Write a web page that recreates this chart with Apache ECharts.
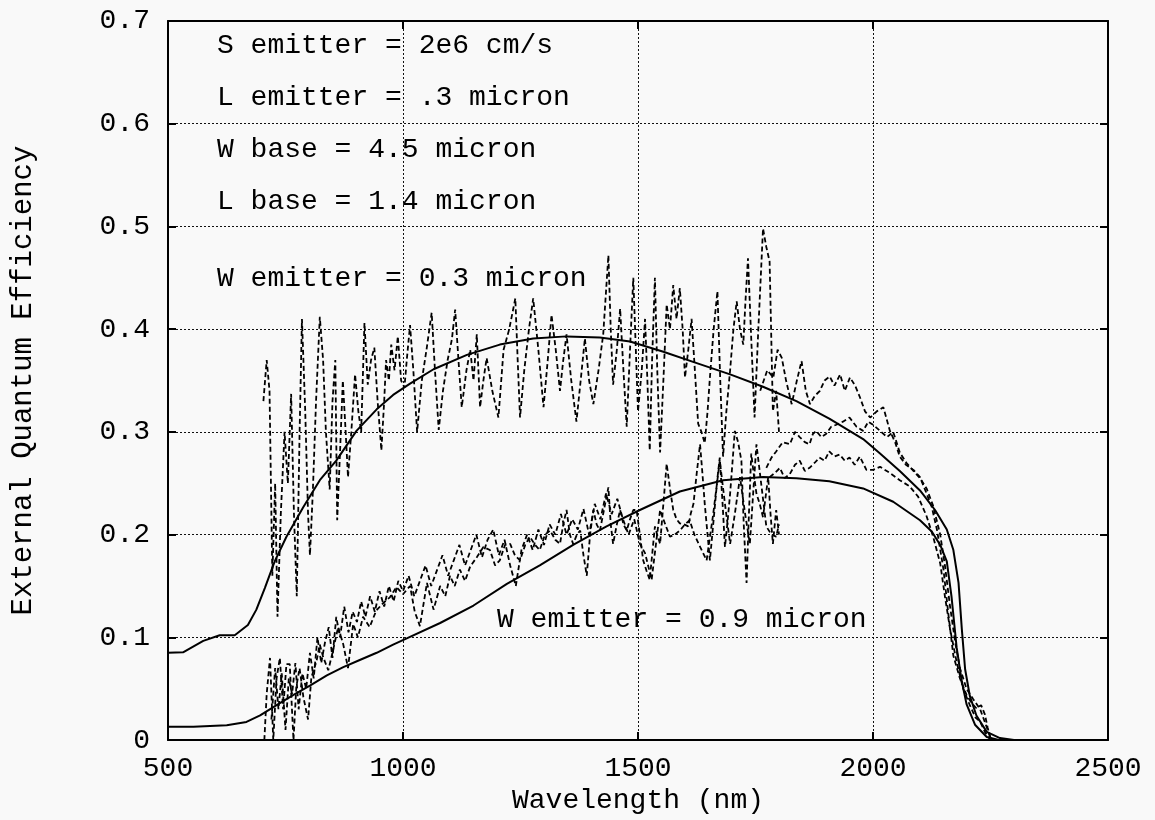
<!DOCTYPE html>
<html>
<head>
<meta charset="utf-8">
<script src="https://cdn.jsdelivr.net/npm/echarts@6/dist/echarts.min.js"></script>
<style>
  html, body { margin: 0; padding: 0; background: #f9f9f9; }
  #chart { width: 1155px; height: 820px; }
</style>
</head>
<body>
<div id="chart"></div>
<script>
// model curves (solid)
var modelHiX = [500, 532, 575, 610, 642, 670, 688, 706, 727, 752, 788, 823, 858, 901, 944, 979, 1015, 1065, 1136, 1206, 1277, 1348, 1419, 1483, 1554, 1625, 1696, 1766, 1837, 1907, 1979, 2015, 2057, 2100, 2132, 2157, 2171, 2182, 2189, 2196, 2206, 2220, 2242, 2270, 2300, 2500];
var modelHiY = [0.085, 0.0854, 0.0966, 0.102, 0.102, 0.112, 0.127, 0.148, 0.174, 0.198, 0.227, 0.253, 0.272, 0.301, 0.322, 0.336, 0.347, 0.361, 0.375, 0.385, 0.391, 0.393, 0.392, 0.388, 0.378, 0.367, 0.356, 0.344, 0.33, 0.313, 0.293, 0.279, 0.262, 0.243, 0.224, 0.205, 0.185, 0.153, 0.108, 0.069, 0.043, 0.024, 0.008, 0.002, 0, 0];

var modelLoX = [500, 554, 625, 667, 696, 731, 767, 802, 838, 873, 908, 944, 979, 1008, 1079, 1150, 1221, 1291, 1362, 1433, 1504, 1589, 1681, 1766, 1837, 1907, 1979, 2043, 2100, 2125, 2143, 2157, 2167, 2178, 2189, 2199, 2217, 2242, 2270, 2500];
var modelLoY = [0.013, 0.013, 0.0145, 0.0177, 0.024, 0.034, 0.044, 0.053, 0.063, 0.071, 0.078, 0.085, 0.093, 0.099, 0.114, 0.131, 0.152, 0.17, 0.19, 0.208, 0.224, 0.242, 0.253, 0.256, 0.255, 0.252, 0.245, 0.232, 0.214, 0.203, 0.19, 0.174, 0.14, 0.09, 0.057, 0.035, 0.015, 0.003, 0, 0];

// measured, W emitter = 0.3 micron (dashed)
var upSiX = [703, 710, 716, 722, 728, 733, 740, 748, 755, 762, 768, 774, 780, 785, 792, 798, 802, 808, 815, 823, 830, 836, 844, 850, 856, 860, 866, 872, 878, 883, 890, 898, 905, 911, 918, 925, 932, 939, 946, 954, 960, 964, 970, 975, 982, 989, 996, 1003, 1008, 1015, 1022, 1030, 1040, 1050, 1061, 1068, 1076, 1085, 1095, 1104, 1111, 1118, 1125, 1135, 1143, 1150, 1157, 1164, 1171, 1178, 1190, 1203, 1214, 1226, 1239, 1244, 1249, 1258, 1268, 1277, 1288, 1299, 1308, 1316, 1325, 1334, 1341, 1348, 1358, 1369, 1378, 1387, 1396, 1405, 1416, 1426, 1437, 1442, 1447, 1455, 1462, 1469, 1476, 1483, 1490, 1500, 1508, 1515, 1520, 1525, 1530, 1536, 1541, 1547, 1554, 1561, 1568, 1575, 1582, 1589, 1595, 1600, 1607, 1614, 1621, 1628, 1635, 1642, 1648, 1653, 1661, 1669, 1675, 1681, 1688, 1696, 1703, 1710, 1717, 1724, 1729, 1734, 1741, 1748, 1756, 1766, 1773, 1780, 1787, 1794, 1800];
var upSiY = [0.33, 0.37, 0.34, 0.16, 0.25, 0.12, 0.22, 0.30, 0.25, 0.337, 0.22, 0.14, 0.30, 0.41, 0.32, 0.22, 0.18, 0.24, 0.33, 0.412, 0.37, 0.30, 0.244, 0.33, 0.37, 0.214, 0.28, 0.35, 0.30, 0.256, 0.30, 0.356, 0.32, 0.30, 0.406, 0.346, 0.37, 0.382, 0.33, 0.282, 0.33, 0.37, 0.35, 0.385, 0.36, 0.393, 0.35, 0.343, 0.37, 0.404, 0.36, 0.30, 0.35, 0.38, 0.416, 0.36, 0.302, 0.34, 0.37, 0.39, 0.419, 0.37, 0.324, 0.36, 0.38, 0.35, 0.395, 0.324, 0.35, 0.372, 0.34, 0.314, 0.38, 0.40, 0.43, 0.37, 0.314, 0.36, 0.40, 0.43, 0.38, 0.324, 0.37, 0.414, 0.38, 0.34, 0.37, 0.395, 0.35, 0.31, 0.35, 0.391, 0.35, 0.327, 0.36, 0.395, 0.472, 0.40, 0.346, 0.38, 0.42, 0.36, 0.305, 0.38, 0.45, 0.32, 0.36, 0.41, 0.35, 0.282, 0.37, 0.45, 0.36, 0.28, 0.35, 0.424, 0.40, 0.443, 0.41, 0.44, 0.40, 0.353, 0.38, 0.41, 0.36, 0.308, 0.30, 0.289, 0.32, 0.353, 0.40, 0.437, 0.35, 0.276, 0.32, 0.36, 0.40, 0.427, 0.40, 0.385, 0.43, 0.469, 0.39, 0.314, 0.40, 0.498, 0.48, 0.466, 0.32, 0.34, 0.30];

var upExtX = [1760, 1775, 1788, 1797, 1806, 1815, 1827, 1838, 1848, 1857, 1866, 1876, 1887, 1897, 1908, 1918, 1930, 1940, 1951, 1962, 1972, 1983, 1994, 2008, 2022, 2036, 2047, 2057, 2070, 2086, 2100, 2114, 2125, 2136, 2150, 2160, 2171, 2185, 2199, 2210, 2220, 2230, 2238, 2244, 2250];
var upExtY = [0.34, 0.36, 0.353, 0.38, 0.372, 0.35, 0.327, 0.35, 0.369, 0.34, 0.327, 0.335, 0.34, 0.35, 0.354, 0.345, 0.356, 0.34, 0.353, 0.345, 0.334, 0.32, 0.314, 0.32, 0.324, 0.301, 0.29, 0.276, 0.268, 0.263, 0.256, 0.24, 0.227, 0.205, 0.166, 0.124, 0.082, 0.06, 0.044, 0.036, 0.031, 0.034, 0.025, 0.012, 0.002];

// measured, W emitter = 0.9 micron (dashed)
var loSi1X = [705, 710, 717, 724, 731, 738, 745, 752, 759, 767, 773, 780, 788, 798, 805, 816, 823, 830, 841, 851, 862, 873, 883, 894, 904, 915, 929, 943, 957, 972, 986, 1000, 1015, 1025, 1036, 1051, 1065, 1079, 1090, 1100, 1110, 1121, 1132, 1143, 1157, 1171, 1185, 1196, 1206, 1217, 1228, 1238, 1249, 1260, 1270, 1281, 1291, 1302, 1313, 1324, 1334, 1341, 1348, 1355, 1362, 1370, 1377, 1384, 1391, 1398, 1405, 1412, 1419, 1428, 1437, 1442, 1447, 1455, 1462, 1469, 1476, 1483, 1490, 1497, 1504, 1511, 1518, 1525, 1530, 1536, 1541, 1547, 1554, 1561, 1568, 1575, 1582, 1589, 1598, 1607, 1612, 1618, 1625, 1632, 1637, 1642, 1648, 1653, 1658, 1664, 1669, 1674, 1680, 1685, 1690, 1696, 1701, 1706, 1713, 1720, 1725, 1731, 1736, 1741, 1746, 1752, 1759, 1766, 1771, 1777, 1782, 1787, 1791, 1794, 1800];
var loSi1Y = [0, 0.045, 0.08, 0, 0.06, 0.08, 0.03, 0.074, 0.074, 0, 0.052, 0.07, 0.042, 0.02, 0.061, 0.077, 0.093, 0.081, 0.068, 0.087, 0.11, 0.093, 0.07, 0.113, 0.1, 0.12, 0.11, 0.126, 0.133, 0.139, 0.149, 0.142, 0.15, 0.125, 0.111, 0.153, 0.127, 0.15, 0.14, 0.16, 0.15, 0.166, 0.155, 0.169, 0.178, 0.188, 0.185, 0.17, 0.175, 0.19, 0.191, 0.18, 0.175, 0.19, 0.198, 0.19, 0.185, 0.2, 0.204, 0.195, 0.191, 0.21, 0.224, 0.2, 0.191, 0.2, 0.204, 0.18, 0.16, 0.2, 0.224, 0.21, 0.204, 0.225, 0.246, 0.21, 0.191, 0.21, 0.224, 0.21, 0.204, 0.215, 0.224, 0.224, 0.2, 0.175, 0.165, 0.156, 0.18, 0.208, 0.2, 0.191, 0.23, 0.269, 0.245, 0.224, 0.215, 0.211, 0.21, 0.208, 0.22, 0.23, 0.26, 0.288, 0.26, 0.23, 0.2, 0.175, 0.2, 0.23, 0.255, 0.275, 0.23, 0.188, 0.21, 0.24, 0.27, 0.301, 0.29, 0.272, 0.21, 0.153, 0.22, 0.279, 0.26, 0.24, 0.23, 0.217, 0.235, 0.256, 0.22, 0.191, 0.21, 0.224, 0.2];

var loSi2X = [720, 728, 735, 742, 750, 757, 764, 771, 778, 786, 794, 802, 810, 818, 826, 834, 842, 850, 858, 866, 875, 884, 893, 902, 911, 920, 930, 940, 950, 960, 970, 980, 990, 1000, 1012, 1024, 1036, 1048, 1060, 1072, 1084, 1096, 1108, 1120, 1132, 1144, 1156, 1168, 1180, 1192, 1204, 1216, 1228, 1240, 1252, 1264, 1276, 1288, 1300, 1312, 1324, 1336, 1348, 1360, 1372, 1384, 1396, 1408, 1420, 1432, 1444, 1456, 1468, 1480, 1492, 1504, 1515, 1529, 1538, 1547, 1558, 1568, 1578, 1589, 1600, 1610, 1620, 1630, 1646, 1660, 1674, 1685, 1696, 1706, 1717, 1728, 1738, 1745, 1752, 1762, 1773, 1784, 1794, 1800];
var loSi2Y = [0.02, 0.07, 0.03, 0.065, 0.01, 0.06, 0.045, 0.075, 0.03, 0.065, 0.05, 0.085, 0.06, 0.1, 0.075, 0.095, 0.11, 0.08, 0.12, 0.1, 0.13, 0.105, 0.125, 0.115, 0.135, 0.12, 0.14, 0.125, 0.145, 0.13, 0.15, 0.135, 0.155, 0.145, 0.16, 0.14, 0.155, 0.17, 0.15, 0.165, 0.18, 0.16, 0.175, 0.19, 0.17, 0.185, 0.2, 0.178, 0.195, 0.205, 0.18, 0.195, 0.17, 0.15, 0.185, 0.2, 0.185, 0.205, 0.19, 0.21, 0.2, 0.22, 0.2, 0.215, 0.205, 0.225, 0.2, 0.23, 0.215, 0.24, 0.22, 0.235, 0.215, 0.2, 0.215, 0.191, 0.182, 0.156, 0.19, 0.224, 0.21, 0.198, 0.2, 0.204, 0.21, 0.214, 0.2, 0.19, 0.175, 0.22, 0.272, 0.23, 0.191, 0.22, 0.256, 0.22, 0.191, 0.24, 0.288, 0.25, 0.208, 0.2, 0.198, 0.21];

var loExt1X = [1773, 1784, 1794, 1808, 1823, 1834, 1844, 1855, 1865, 1872, 1879, 1890, 1900, 1911, 1922, 1936, 1950, 1965, 1979, 1990, 2000, 2015, 2030, 2043, 2057, 2071, 2086, 2100, 2114, 2128, 2143, 2153, 2164, 2175, 2185, 2199, 2213, 2228, 2240, 2250];
var loExt1Y = [0.265, 0.275, 0.281, 0.29, 0.288, 0.3, 0.295, 0.29, 0.288, 0.298, 0.301, 0.295, 0.298, 0.305, 0.307, 0.31, 0.314, 0.305, 0.301, 0.31, 0.307, 0.301, 0.295, 0.3, 0.28, 0.27, 0.262, 0.255, 0.245, 0.228, 0.2, 0.17, 0.13, 0.095, 0.07, 0.05, 0.04, 0.03, 0.015, 0.002];

var loExt2X = [1780, 1791, 1802, 1812, 1823, 1834, 1844, 1855, 1865, 1876, 1886, 1897, 1907, 1918, 1929, 1940, 1950, 1961, 1972, 1986, 2000, 2015, 2036, 2057, 2078, 2096, 2114, 2128, 2143, 2153, 2164, 2178, 2192, 2206, 2218, 2228, 2238, 2250];
var loExt2Y = [0.256, 0.26, 0.265, 0.255, 0.259, 0.268, 0.272, 0.262, 0.265, 0.27, 0.275, 0.272, 0.281, 0.276, 0.278, 0.272, 0.275, 0.268, 0.276, 0.263, 0.263, 0.266, 0.26, 0.253, 0.247, 0.237, 0.218, 0.198, 0.172, 0.14, 0.108, 0.076, 0.05, 0.034, 0.022, 0.018, 0.008, 0];

var xTicks = [500, 1000, 1500, 2000, 2500];
var yTicks = [0, 0.1, 0.2, 0.3, 0.4, 0.5, 0.6, 0.7];

var notes = [
  { text: "S emitter = 2e6 cm/s", left: 217, top: 32 },
  { text: "L emitter = .3 micron", left: 217, top: 84 },
  { text: "W base = 4.5 micron", left: 217, top: 136 },
  { text: "L base = 1.4 micron", left: 217, top: 188 },
  { text: "W emitter = 0.3 micron", left: 217, top: 265 },
  { text: "W emitter = 0.9 micron", left: 497, top: 606 }
];

var FONT = "'Liberation Mono', 'Courier New', monospace";

function pairs(xs, ys) {
  return xs.map(function (x, i) { return [x, ys[i]]; });
}

function solid(xs, ys) {
  return {
    type: "line", data: pairs(xs, ys), showSymbol: false, smooth: false,
    lineStyle: { color: "#000", width: 2 }, z: 3
  };
}

function dashed(xs, ys) {
  return {
    type: "line", data: pairs(xs, ys), showSymbol: false, smooth: false,
    lineStyle: { color: "#000", width: 1.8, type: [5, 3] }, z: 2
  };
}

var chart = echarts.init(document.getElementById("chart"));

var frameAxis = {
  axisLine: { show: true, onZero: false, lineStyle: { color: "#000", width: 2 } },
  axisTick: { show: true, inside: true, length: 8, lineStyle: { color: "#000", width: 2 } }
};

chart.setOption({
  backgroundColor: "#f9f9f9",
  animation: false,
  grid: { left: 168, right: 47, top: 21, bottom: 75 },
  xAxis: [
    Object.assign({
      type: "value", min: xTicks[0], max: xTicks[xTicks.length - 1], interval: 500,
      name: "Wavelength (nm)", nameLocation: "middle", nameGap: 45,
      nameTextStyle: { color: "#000", fontFamily: FONT, fontSize: 28 },
      axisLabel: {
        color: "#000", fontFamily: FONT, fontSize: 28, margin: 14,
        formatter: function (v) { return String(v); }
      },
      splitLine: { show: true, lineStyle: { color: "#111", width: 1, type: [2, 2] } }
    }, frameAxis),
    Object.assign({
      type: "value", position: "top", min: xTicks[0], max: xTicks[xTicks.length - 1], interval: 500,
      axisLabel: { show: false }, splitLine: { show: false }
    }, frameAxis)
  ],
  yAxis: [
    Object.assign({
      type: "value", min: yTicks[0], max: yTicks[yTicks.length - 1], interval: 0.1,
      name: "External Quantum Efficiency", nameLocation: "middle", nameGap: 130,
      nameTextStyle: { color: "#000", fontFamily: FONT, fontSize: 29 },
      axisLabel: {
        color: "#000", fontFamily: FONT, fontSize: 28, margin: 18,
        formatter: function (v) { return String(Math.round(v * 10) / 10); }
      },
      splitLine: { show: true, lineStyle: { color: "#111", width: 1, type: [2, 2] } }
    }, frameAxis),
    Object.assign({
      type: "value", position: "right", min: yTicks[0], max: yTicks[yTicks.length - 1], interval: 0.1,
      axisLabel: { show: false }, splitLine: { show: false }
    }, frameAxis)
  ],
  graphic: notes.map(function (n) {
    return {
      type: "text", left: n.left, top: n.top, z: 10,
      style: { text: n.text, fill: "#000", font: "28px " + FONT }
    };
  }),
  series: [
    solid(modelHiX, modelHiY),
    solid(modelLoX, modelLoY),
    dashed(upSiX, upSiY),
    dashed(upExtX, upExtY),
    dashed(loSi1X, loSi1Y),
    dashed(loSi2X, loSi2Y),
    dashed(loExt1X, loExt1Y),
    dashed(loExt2X, loExt2Y)
  ]
});
</script>
</body>
</html>
